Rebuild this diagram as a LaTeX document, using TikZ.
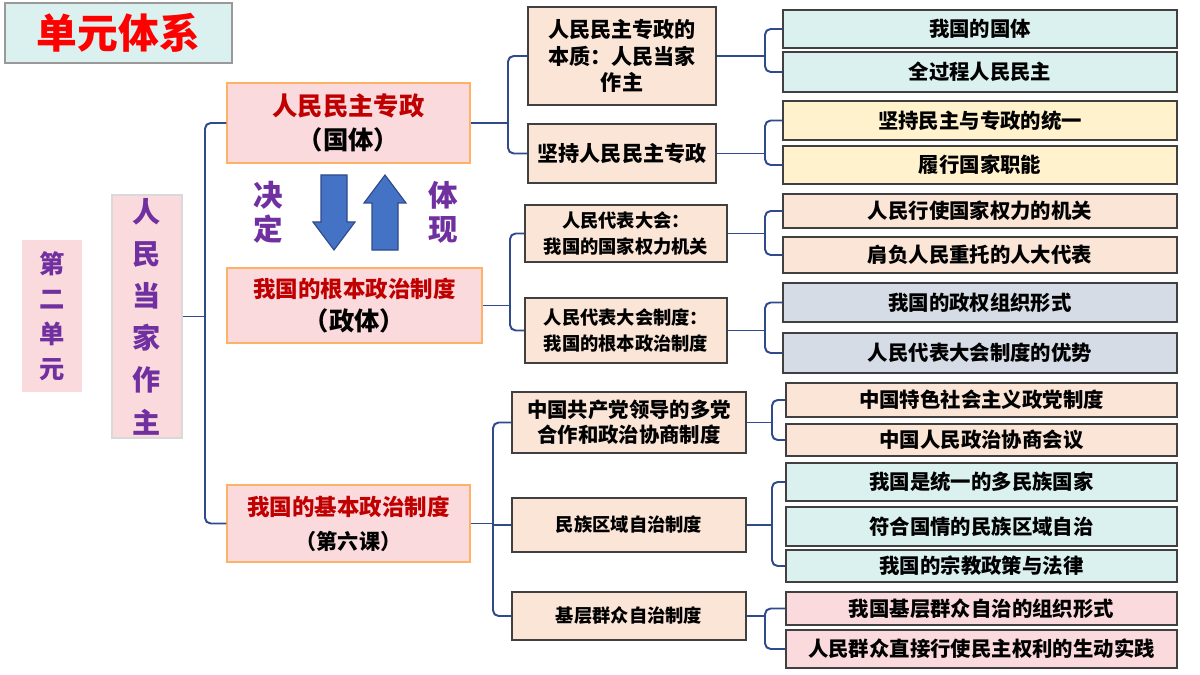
\documentclass[tikz,border=0pt]{standalone}
\usepackage{fontspec}
\setmainfont{Noto Sans CJK SC}[BoldFont={Noto Sans CJK SC Black}]
\usetikzlibrary{positioning}
\definecolor{peach}{HTML}{FBE5D6}
\definecolor{pinkb}{HTML}{FADADD}
\definecolor{cyanb}{HTML}{DAF1EF}
\definecolor{yelb}{HTML}{FFF2CC}
\definecolor{greyb}{HTML}{D6DCE5}
\definecolor{navy}{HTML}{2F4B8C}
\definecolor{arrblue}{HTML}{4472C4}
\definecolor{purp}{HTML}{7030A0}
\definecolor{redt}{HTML}{C00000}
\tikzset{
  box/.style={draw=black!75, thick, fill=peach, inner sep=0pt, align=center,
    font=\bfseries\fontsize{14.5}{17}\selectfont},
  big/.style={draw=orange!60, thick, fill=pinkb, inner sep=0pt, align=center,
    font=\bfseries\fontsize{18}{24}\selectfont},
  brk/.style={navy, line width=1.4pt, rounded corners=4pt}
}
% box by pixel corners
\newcommand\pbox[7][]{\node[box,#1,minimum width={(#5-#3)*0.025cm},
  minimum height={(#6-#4)*0.025cm}] (#2) at ({(#3+#5)/2},{(#4+#6)/2}) {#7};}
% bracket: from node, bracket x, top node, bottom node
\newcommand\linkbrk[4]{\coordinate (bx) at (#2,0);
  \draw[brk] (#3.west) -| (bx |- #4.west) -- (#4.west);
  \draw[brk] (#1.east) -- (bx |- #1.east);}
\begin{document}
\begin{tikzpicture}[x=0.025cm, y=-0.025cm]
\useasboundingbox[fill=white] (0,0) rectangle (1200,675);
% left column
\pbox[fill=cyanb, draw=black!40, font=\bfseries\fontsize{29}{30}\selectfont\color{red}]{title}{5}{3}{232}{63}{单元体系}
\pbox[fill=pinkb, draw=none, font=\bfseries\fontsize{18}{25}\selectfont\color{purp}]{unit}{22}{240}{82}{392}{第\\二\\单\\元}
\pbox[fill=pinkb, draw=black!15, font=\bfseries\fontsize{20}{30}\selectfont\color{purp}]{owner}{112}{195}{182}{438}{人\\民\\当\\家\\作\\主}
\pbox[big]{dict}{227}{83}{470}{163}{\textcolor{redt}{人民民主专政}\\（国体）}
\pbox[big]{fund}{227}{268}{482}{343}{{\color{redt}\fontsize{16}{22}\selectfont 我国的根本政治制度}\\（政体）}
\pbox[big]{basic}{227}{485}{470}{562}{{\color{redt}\fontsize{16}{22}\selectfont 我国的基本政治制度}\\{\fontsize{15}{22}\selectfont（第六课）}}
\linkbrk{owner}{205}{dict}{basic}
% arrows
\filldraw[fill=arrblue, draw=navy, thick] (321,175) -- (347,175) -- (347,222) -- (355,222)
  -- (334,250) -- (313,222) -- (321,222) -- cycle;
\filldraw[fill=arrblue, draw=navy, thick] (372,250) -- (398,250) -- (398,203) -- (406,203)
  -- (385,175) -- (364,203) -- (372,203) -- cycle;
\node[font=\bfseries\fontsize{21}{24}\selectfont, text=purp, align=center] (jd) at (268,212) {决\\定};
\node[font=\bfseries\fontsize{21}{24}\selectfont, text=purp, align=center] (tx) at (443,212) {体\\现};
% middle column
\pbox[font=\bfseries\fontsize{15}{19}\selectfont]{a1}{528}{7}{716}{105}{人民民主专政的\\本质：人民当家\\作主}
\pbox[font=\bfseries\fontsize{15}{19}\selectfont]{a2}{528}{124}{716}{183}{坚持人民民主专政}
\linkbrk{dict}{508}{a1}{a2}
\pbox[font=\bfseries\fontsize{13}{18}\selectfont]{b1}{525}{205}{727}{262}{人民代表大会：\\我国的国家权力机关}
\pbox[font=\bfseries\fontsize{13}{18}\selectfont]{b2}{525}{298}{727}{363}{人民代表大会制度：\\我国的根本政治制度}
\linkbrk{fund}{510}{b1}{b2}
\pbox[font=\bfseries\fontsize{14.5}{18}\selectfont]{c1}{512}{392}{746}{453}{中国共产党领导的多党\\合作和政治协商制度}
\pbox[font=\bfseries\fontsize{13}{16}\selectfont]{c2}{512}{498}{746}{552}{民族区域自治制度}
\pbox[font=\bfseries\fontsize{13}{16}\selectfont]{c3}{512}{592}{746}{640}{基层群众自治制度}
\linkbrk{basic}{493}{c1}{c3}
\draw[brk] (c2.west) -- (493,525);
% right column
\pbox[fill=cyanb]{r1}{783}{10}{1177}{48}{我国的国体}
\pbox[fill=cyanb]{r2}{783}{52}{1177}{92}{全过程人民民主}
\linkbrk{a1}{765}{r1}{r2}
\pbox[fill=yelb]{r3}{783}{101}{1177}{140}{坚持民主与专政的统一}
\pbox[fill=yelb]{r4}{783}{146}{1177}{184}{履行国家职能}
\linkbrk{a2}{765}{r3}{r4}
\pbox{r5}{783}{194}{1177}{228}{人民行使国家权力的机关}
\pbox{r6}{783}{237}{1177}{273}{肩负人民重托的人大代表}
\linkbrk{b1}{765}{r5}{r6}
\pbox[fill=greyb]{r7}{783}{283}{1177}{322}{我国的政权组织形式}
\pbox[fill=greyb]{r8}{783}{333}{1177}{373}{人民代表大会制度的优势}
\linkbrk{b2}{765}{r7}{r8}
\pbox{r9}{786}{383}{1177}{417}{中国特色社会主义政党制度}
\pbox{r10}{786}{424}{1177}{456}{中国人民政治协商会议}
\linkbrk{c1}{772}{r9}{r10}
\pbox[fill=cyanb]{r11}{786}{463}{1177}{501}{我国是统一的多民族国家}
\pbox[fill=cyanb]{r12}{786}{507}{1177}{546}{符合国情的民族区域自治}
\pbox[fill=cyanb]{r13}{786}{550}{1177}{582}{我国的宗教政策与法律}
\linkbrk{c2}{772}{r11}{r13}
\pbox[fill=pinkb]{r14}{786}{592}{1177}{625}{我国基层群众自治的组织形式}
\pbox[fill=pinkb]{r15}{786}{630}{1177}{668}{人民群众直接行使民主权利的生动实践}
\linkbrk{c3}{765}{r14}{r15}
\end{tikzpicture}
\end{document}
